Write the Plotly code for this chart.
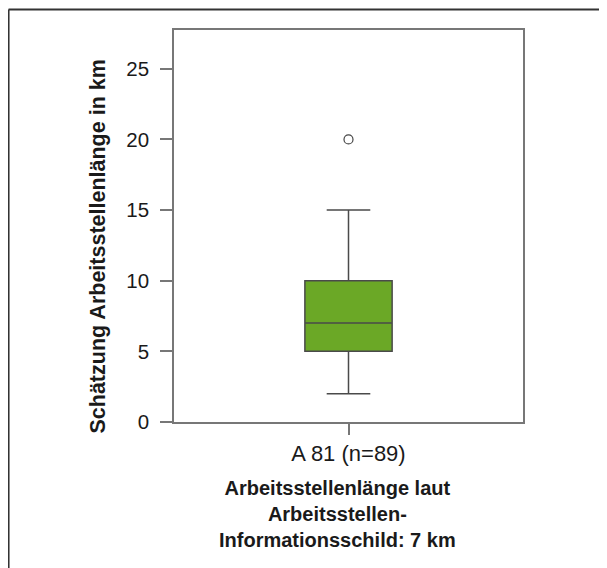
import plotly.graph_objects as go

# Data
categories = ["A 81 (n=89)"]
q1_vals = [5]
median_vals = [7]
q3_vals = [10]
lower_fence = [2]
upper_fence = [15]
outlier_cat = ["A 81 (n=89)"]
outlier_vals = [20]
y_ticks = [0, 5, 10, 15, 20, 25]

y_title = "Schätzung Arbeitsstellenlänge in km"
x_title_lines = ["Arbeitsstellenlänge laut", "Arbeitsstellen-", "Informationsschild: 7 km"]

FONT = "Liberation Sans, Arial, sans-serif"
W, H = 607, 568
OFF = 8  # page body margin
# plot area in page pixels
PL, PR, PT, PB = 174.3, 523.0, 29.5, 421.7
L, R, T, B = PL - OFF, PR - OFF, PT - OFF, PB - OFF

def px_x(p):  # page x -> paper
    return (p - PL) / (PR - PL)

def px_y(p):  # page y -> paper
    return (PB - p) / (PB - PT)

fig = go.Figure()
fig.add_trace(go.Box(
    x=categories, q1=q1_vals, median=median_vals, q3=q3_vals,
    lowerfence=lower_fence, upperfence=upper_fence,
    fillcolor="#6BA826", line=dict(color="#4a4a4a", width=1.5),
    width=0.25, whiskerwidth=0.5, boxpoints=False, showlegend=False,
    hoverinfo="skip",
))
fig.add_trace(go.Scatter(
    x=outlier_cat, y=outlier_vals, mode="markers",
    marker=dict(symbol="circle-open", size=9, color="#444444", line=dict(width=1.2)),
    showlegend=False, hoverinfo="skip",
))

annotations = [
    dict(
        text=f"<b>{y_title}</b>", x=px_x(98), y=px_y(246.5), xref="paper", yref="paper",
        textangle=-90, showarrow=False, xanchor="center", yanchor="middle",
        font=dict(family=FONT, size=21.5, color="#1a1a1a"),
    ),
    dict(
        text="<br>".join(f"<b>{t}</b>" for t in x_title_lines),
        x=px_x(337.5), y=px_y(514.0), xref="paper", yref="paper",
        showarrow=False, xanchor="center", yanchor="middle", align="center",
        font=dict(family=FONT, size=20, color="#1a1a1a"),
    ),
]

BX = OFF + 1.0  # border line position in page pixels (inside the figure)
shapes = [
    dict(type="line", xref="paper", yref="paper", x0=px_x(BX), x1=px_x(W + 20),
         y0=px_y(BX), y1=px_y(BX), line=dict(color="#333333", width=2)),
    dict(type="line", xref="paper", yref="paper", x0=px_x(BX), x1=px_x(BX),
         y0=px_y(BX), y1=px_y(H + 20), line=dict(color="#333333", width=2)),
]

fig.update_layout(
    width=W, height=H,
    margin=dict(l=L, r=W - R, t=T, b=H - B, pad=0),
    paper_bgcolor="white", plot_bgcolor="white",
    font=dict(family=FONT, color="#1a1a1a"),
    annotations=annotations, shapes=shapes,
    xaxis=dict(
        type="category", range=[-0.5, 0.5], showgrid=False, zeroline=False,
        showline=True, mirror=True, linecolor="#777777", linewidth=1.5,
        ticks="outside", ticklen=11, tickwidth=1.5, tickcolor="#777777",
        tickfont=dict(family=FONT, size=22, color="#1a1a1a"),
        ticklabelstandoff=0,
    ),
    yaxis=dict(
        range=[0, 27.74], tickvals=y_ticks, showgrid=False, zeroline=False,
        showline=True, mirror=True, linecolor="#777777", linewidth=1.5,
        ticks="outside", ticklen=12, tickwidth=1.5, tickcolor="#777777",
        tickfont=dict(family=FONT, size=20.5, color="#1a1a1a"),
        ticklabelstandoff=7,
    ),
)

fig.write_html("out.html")
